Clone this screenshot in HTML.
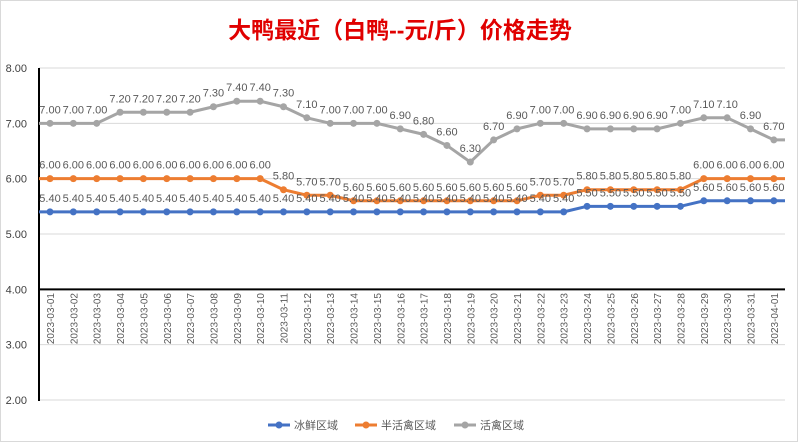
<!DOCTYPE html>
<html><head><meta charset="utf-8"><style>
body{margin:0;background:#fff;}
svg{display:block;font-family:"Liberation Sans","Noto Sans CJK SC",sans-serif;}
</style></head><body>
<svg id="c" width="800" height="442" viewBox="0 0 800 442" xmlns="http://www.w3.org/2000/svg">
<rect x="0.5" y="0.5" width="797" height="441" fill="#fff" stroke="#d9d9d9"/>
<text x="400" y="38" text-anchor="middle" font-size="23" font-weight="bold" fill="#e00000">大鸭最近（白鸭--元/斤）价格走势</text>
<g id="g"></g>
<g font-size="11" fill="#595959">
<line x1="268" y1="425" x2="290" y2="425" stroke="#4472c4" stroke-width="3"/><circle cx="279" cy="425" r="3.5" fill="#4472c4"/>
<text x="294" y="429">冰鲜区域</text>
<line x1="355" y1="425" x2="377" y2="425" stroke="#ed7d31" stroke-width="3"/><circle cx="366" cy="425" r="3.5" fill="#ed7d31"/>
<text x="381" y="429">半活禽区域</text>
<line x1="454" y1="425" x2="476" y2="425" stroke="#a5a5a5" stroke-width="3"/><circle cx="465" cy="425" r="3.5" fill="#a5a5a5"/>
<text x="480" y="429">活禽区域</text>
</g>
</svg>
<script>
var g=document.getElementById('g'),h='';
function Y(v){return 68+(8-v)*55.33;}
for(var v=2;v<=8;v++){var y=Y(v);h+='<line x1="39" x2="785" y1="'+y+'" y2="'+y+'" stroke="#d9d9d9"/>';
h+='<text x="27" y="'+(y+4)+'" text-anchor="end" font-size="11" fill="#404040">'+v.toFixed(2)+'</text>';}
h+='<line x1="39" x2="39" y1="68" y2="401" stroke="#000" stroke-width="2"/>';
h+='<line x1="38" x2="785" y1="'+Y(4)+'" y2="'+Y(4)+'" stroke="#000" stroke-width="2"/>';
function X(i){return 50+i*23.35;}
var dates=[];for(var i=1;i<=31;i++)dates.push('2023-03-'+(i<10?'0':'')+i);dates.push('2023-04-01');
dates.forEach(function(d,i){var x=X(i)+4;h+='<text transform="translate('+x+',293) rotate(-90)" text-anchor="end" font-size="10" fill="#595959">'+d+'</text>';});
var gray=[7,7,7,7.2,7.2,7.2,7.2,7.3,7.4,7.4,7.3,7.1,7,7,7,6.9,6.8,6.6,6.3,6.7,6.9,7,7,6.9,6.9,6.9,6.9,7,7.1,7.1,6.9,6.7];
var org=[6,6,6,6,6,6,6,6,6,6,5.8,5.7,5.7,5.6,5.6,5.6,5.6,5.6,5.6,5.6,5.6,5.7,5.7,5.8,5.8,5.8,5.8,5.8,6,6,6,6];
var blu=[];for(i=0;i<32;i++)blu.push(i<23?5.4:(i<28?5.5:5.6));
var orgL=[6,6,6,6,6,6,6,6,6,6,5.8,5.7,5.7,5.6,5.6,5.6,5.6,5.6,5.6,5.6,5.6,5.7,5.7,5.8,5.8,5.8,5.8,5.8,6,6,6,6];
function series(d,c){var p='M39,'+Y(d[0]);d.forEach(function(v,i){p+=' L'+X(i)+','+Y(v);});p+=' L785,'+Y(d[31]);
var s='<path d="'+p+'" fill="none" stroke="'+c+'" stroke-width="3" stroke-linejoin="round"/>';
d.forEach(function(v,i){s+='<circle cx="'+X(i)+'" cy="'+Y(v)+'" r="3.5" fill="'+c+'"/>';});
d.forEach(function(v,i){s+='<text x="'+X(i)+'" y="'+(Y(v)-10)+'" text-anchor="middle" font-size="11" fill="#595959">'+v.toFixed(2)+'</text>';});
return s;}
h+=series(gray,'#a5a5a5')+series(org,'#ed7d31')+series(blu,'#4472c4');
g.innerHTML=h;
</script>
</body></html>
